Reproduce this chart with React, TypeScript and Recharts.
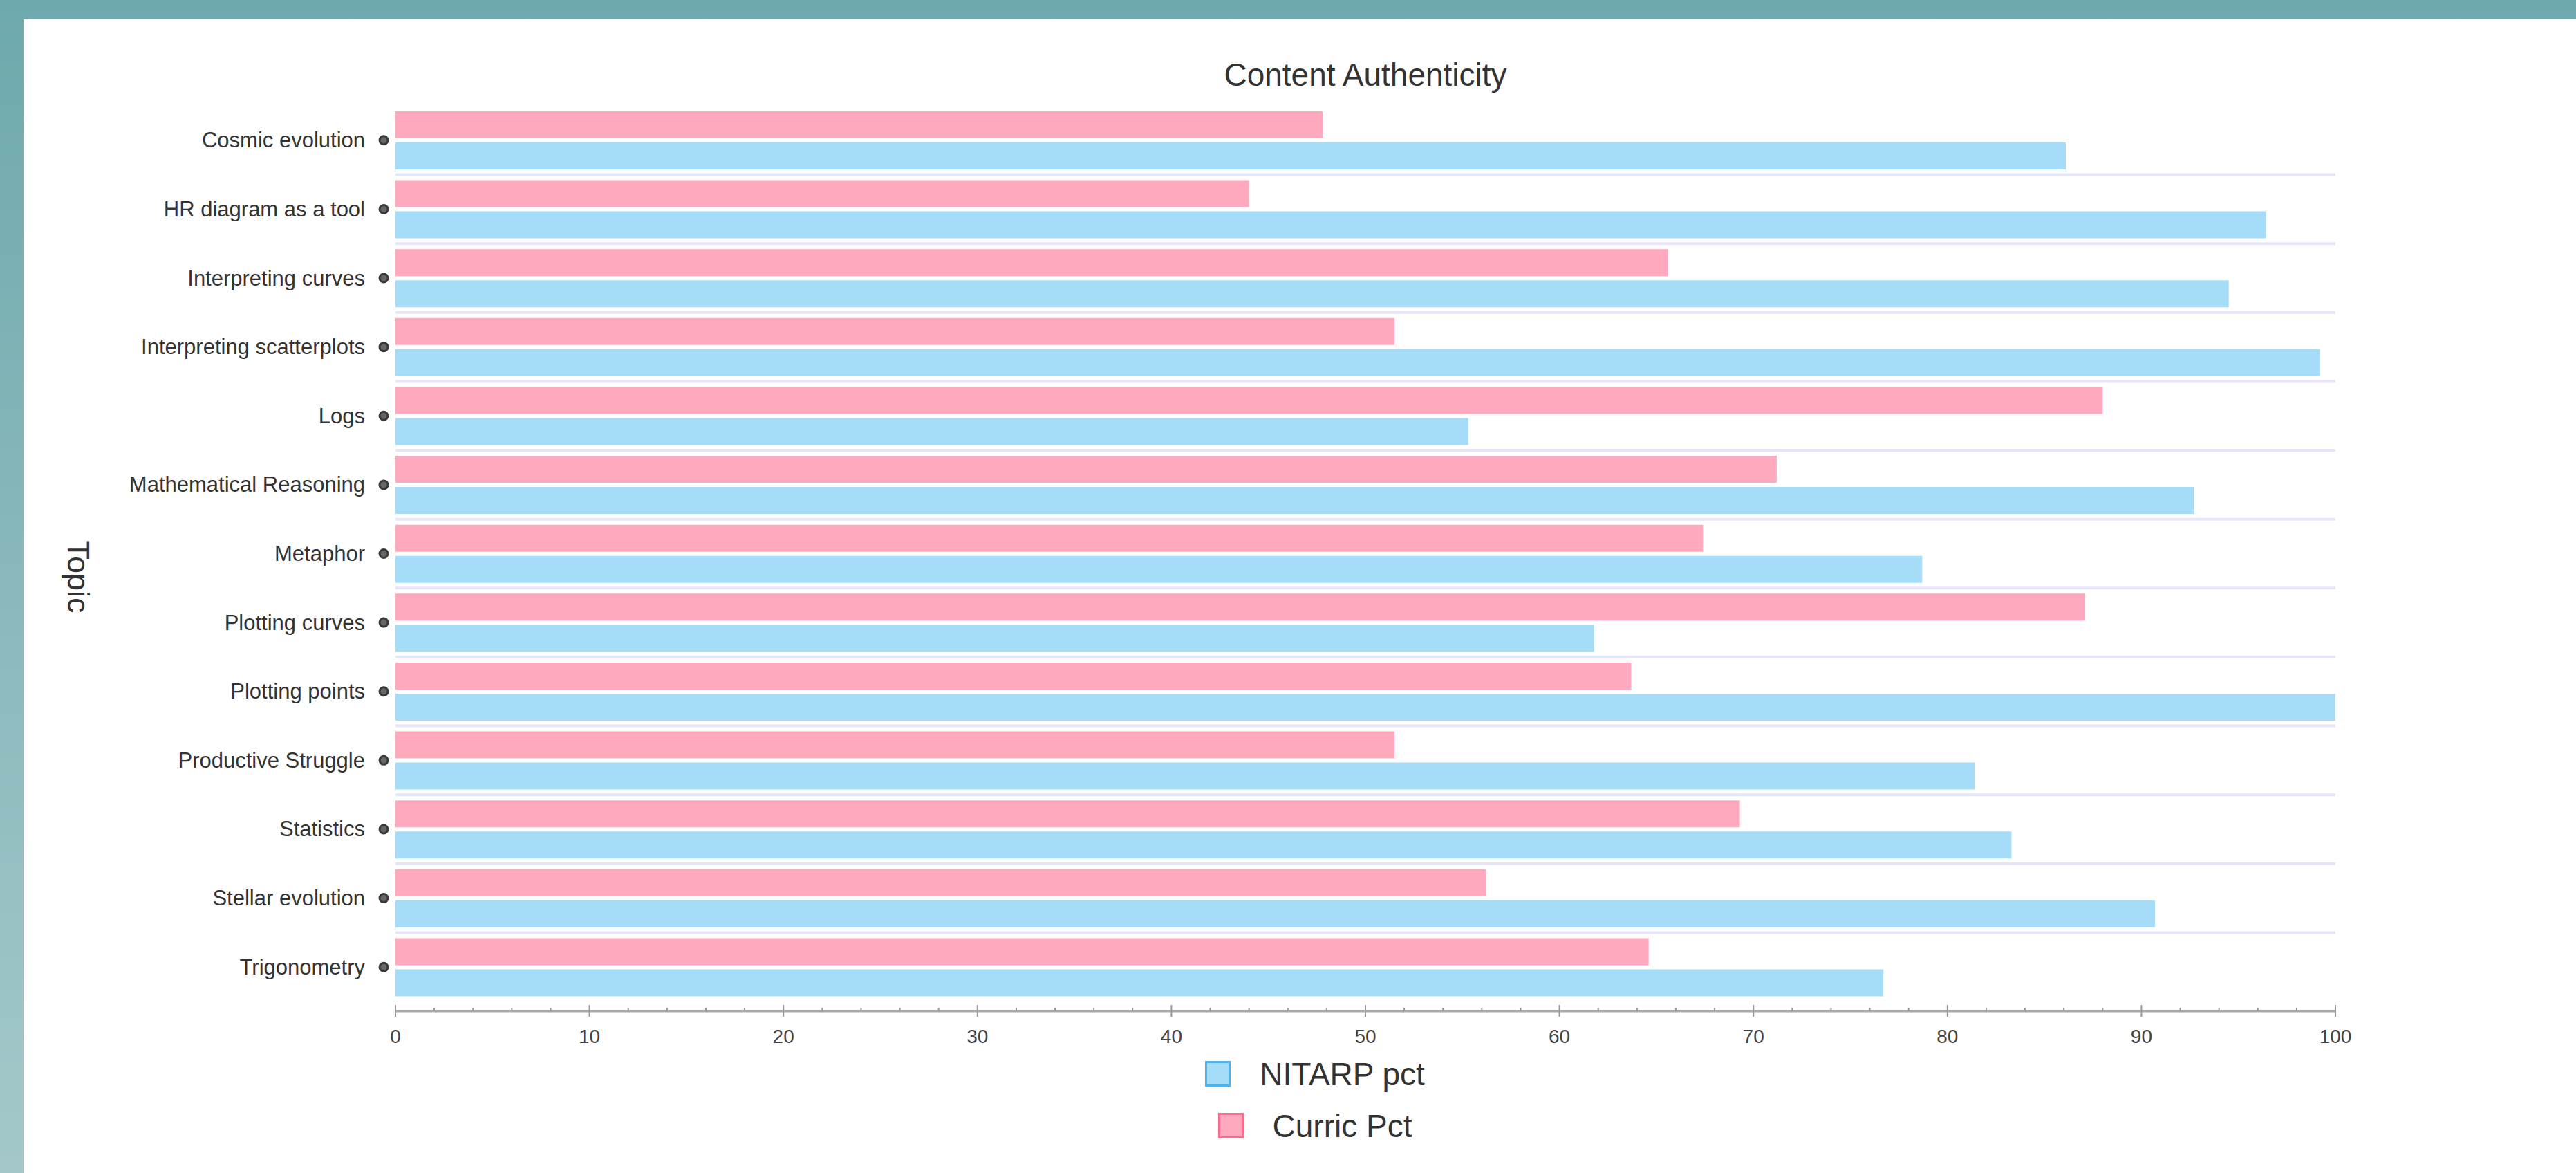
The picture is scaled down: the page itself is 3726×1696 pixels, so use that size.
import React from 'react';
import { BarChart, Bar, XAxis, YAxis, CartesianGrid } from 'recharts';

const topics = [
  'Cosmic evolution',
  'HR diagram as a tool',
  'Interpreting curves',
  'Interpreting scatterplots',
  'Logs',
  'Mathematical Reasoning',
  'Metaphor',
  'Plotting curves',
  'Plotting points',
  'Productive Struggle',
  'Statistics',
  'Stellar evolution',
  'Trigonometry',
];
const nitarpPct = [86.1, 96.4, 94.5, 99.2, 55.3, 92.7, 78.7, 61.8, 100, 81.4, 83.3, 90.7, 76.7];
const curricPct = [47.8, 44.0, 65.6, 51.5, 88.0, 71.2, 67.4, 87.1, 63.7, 51.5, 69.3, 56.2, 64.6];
const seriesNames = ['NITARP pct', 'Curric Pct'];

const data = topics.map((topic, i) => ({ topic, nitarp: nitarpPct[i], curric: curricPct[i] }));
// labelled every 10, small minor ticks every 2
const allTicks = Array.from({ length: 51 }, (_, i) => i * 2);

const FONT = "'Liberation Sans', Arial, sans-serif";
const BLUE = '#a5dcf8';
const BLUE_EDGE = '#4fb2ec';
const PINK = '#fea9be';
const PINK_EDGE = '#fb6c8c';

const YTick = ({ x, y, payload }: any) => (
  <g>
    <text x={x - 44} y={y} textAnchor='end' dominantBaseline='central' fontSize={31} fill='#333' fontFamily={FONT}>
      {payload.value}
    </text>
    <circle cx={x - 17} cy={y} r={6} fill='#666' stroke='#3a3a3a' strokeWidth={3} />
  </g>
);

const XTick = ({ x, y, payload }: any) => {
  const major = payload.value % 10 === 0;
  return (
    <g>
      <line x1={x} x2={x} y1={major ? y - 9 : y - 5} y2={major ? y + 8 : y} stroke='#999' strokeWidth={2} />
      {major && (
        <text x={x} y={y + 36} textAnchor='middle' dominantBaseline='central' fontSize={28} fill='#444' fontFamily={FONT}>
          {payload.value}
        </text>
      )}
    </g>
  );
};

const LegendRow = ({ label, fill, edge }: { label: string; fill: string; edge: string }) => (
  <div style={{ display: 'flex', alignItems: 'center', height: 75 }}>
    <span
      style={{
        display: 'inline-block',
        width: 37,
        height: 37,
        boxSizing: 'border-box',
        background: fill,
        border: `3px solid ${edge}`,
      }}
    />
    <span style={{ marginLeft: 42, fontSize: 46, color: '#333' }}>{label}</span>
  </div>
);

const App: React.FC = () => {
  return (
    <div
      style={{
        position: 'fixed',
        left: 0,
        top: 0,
        width: 3726,
        height: 1696,
        overflow: 'hidden',
        background: 'linear-gradient(to bottom, #6ea9ad 0%, #a4c8ca 100%)',
      }}
    >
      <div style={{ position: 'absolute', left: 34, top: 28, right: 0, bottom: 0, background: '#fff' }} />
      <div
        style={{
          position: 'absolute',
          left: 572,
          width: 2806,
          top: 82,
          height: 52,
          lineHeight: '52px',
          textAlign: 'center',
          fontFamily: FONT,
          fontSize: 46,
          color: '#333',
        }}
      >
        Content Authenticity
      </div>
      <div
        style={{
          position: 'absolute',
          left: 113,
          top: 834,
          transform: 'translate(-50%, -50%) rotate(90deg)',
          fontFamily: FONT,
          fontSize: 45,
          color: '#333',
          whiteSpace: 'nowrap',
        }}
      >
        Topic
      </div>
      <div style={{ position: 'absolute', left: 0, top: 0 }}>
        <BarChart
          width={3726}
          height={1696}
          data={data}
          layout='vertical'
          barGap={6}
          margin={{ top: 153, right: 348, left: 0, bottom: 174 }}
        >
          <CartesianGrid
            xAxisId='ticks'
            vertical={false}
            stroke='#e6e6fb'
            strokeWidth={4}
            horizontalCoordinatesGenerator={({ offset }: any) =>
              topics.slice(1).map((_, i) => offset.top + ((i + 1) * offset.height) / topics.length)
            }
          />
          <XAxis xAxisId={0} type='number' domain={[0, 100]} height={14} tick={false} axisLine={false} tickLine={false} />
          <XAxis
            xAxisId='ticks'
            type='number'
            domain={[0, 100]}
            ticks={allTicks}
            interval={0}
            height={60}
            tickSize={0}
            tickMargin={0}
            tickLine={false}
            tick={<XTick />}
            axisLine={{ stroke: '#aaa', strokeWidth: 3 }}
          />
          <YAxis
            type='category'
            dataKey='topic'
            width={572}
            interval={0}
            tickSize={0}
            tickMargin={0}
            axisLine={false}
            tickLine={false}
            tick={<YTick />}
          />
          <Bar xAxisId='ticks' dataKey='curric' name={seriesNames[1]} fill={PINK} barSize={39} isAnimationActive={false} />
          <Bar xAxisId='ticks' dataKey='nitarp' name={seriesNames[0]} fill={BLUE} barSize={39} isAnimationActive={false} />
        </BarChart>
      </div>
      <div
        style={{
          position: 'absolute',
          left: 1700,
          top: 1515,
          width: 404,
          display: 'flex',
          flexDirection: 'column',
          alignItems: 'center',
          fontFamily: FONT,
        }}
      >
        <LegendRow label={seriesNames[0]} fill={BLUE} edge={BLUE_EDGE} />
        <LegendRow label={seriesNames[1]} fill={PINK} edge={PINK_EDGE} />
      </div>
    </div>
  );
};

export default App;
